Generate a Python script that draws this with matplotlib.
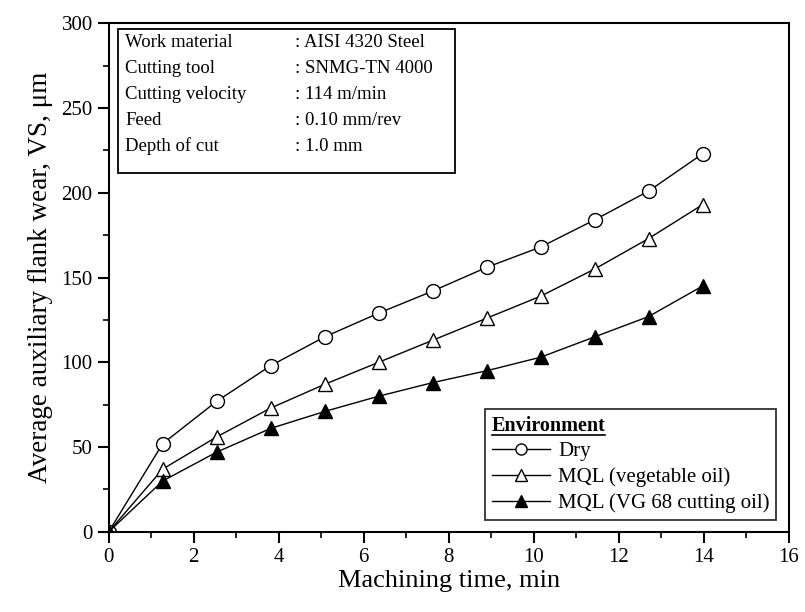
import matplotlib.pyplot as plt
from matplotlib.lines import Line2D

plt.rcParams['font.family'] = ['Liberation Serif', 'DejaVu Serif']

# Datos
tiempo = [0, 1.27, 2.54, 3.81, 5.08, 6.35, 7.62, 8.89, 10.16, 11.43, 12.70, 13.97]
dry = [0, 52, 77, 98, 115, 129, 142, 156, 168, 184, 201, 223]
mql_veg = [0, 37, 56, 73, 87, 100, 113, 126, 139, 155, 173, 193]
mql_vg68 = [0, 30, 47, 61, 71, 80, 88, 95, 103, 115, 127, 145]

etiquetas = ['Dry', 'MQL (vegetable oil)', 'MQL (VG 68 cutting oil)']

info_nombres = ['Work material', 'Cutting tool', 'Cutting velocity', 'Feed', 'Depth of cut']
info_valores = [': AISI 4320 Steel', ': SNMG-TN 4000', ': 114 m/min', ': 0.10 mm/rev', ': 1.0 mm']

fig = plt.figure(figsize=(8.05, 6.12), dpi=100)
ax = fig.add_axes([0.135, 0.131, 0.845, 0.831])

ax.plot(tiempo, dry, color='black', lw=1, marker='o', ms=10, mfc='white', mec='black', mew=1, label=etiquetas[0])
ax.plot(tiempo, mql_veg, color='black', lw=1, marker='^', ms=10, mfc='white', mec='black', mew=1, label=etiquetas[1])
ax.plot(tiempo, mql_vg68, color='black', lw=1, marker='^', ms=10, mfc='black', mec='black', mew=1, label=etiquetas[2])

ax.set_xlim(0, 16)
ax.set_ylim(0, 300)
ax.set_xticks(range(0, 17, 2))
ax.set_xticks(range(1, 16, 2), minor=True)
ax.set_yticks(range(0, 301, 50))
ax.set_yticks(range(25, 300, 50), minor=True)
ax.tick_params(which='major', direction='out', length=8, width=1.5, labelsize=15)
ax.tick_params(which='minor', direction='out', length=4, width=1.2)
for s in ax.spines.values():
    s.set_linewidth(1.5)

ax.set_xlabel('Machining time, min', fontsize=19, labelpad=2)
ax.set_ylabel('Average auxiliary flank wear, VS, \u03bcm', fontsize=19.5, labelpad=6)

# Cuadro de condiciones de corte
ax.add_patch(plt.Rectangle((0.013, 0.705), 0.496, 0.283, transform=ax.transAxes,
                           fill=False, lw=1.3, ec='black'))
for i, (n, v) in enumerate(zip(info_nombres, info_valores)):
    y = 0.962 - i * 0.051
    ax.text(0.024, y, n, transform=ax.transAxes, fontsize=13.5, va='center')
    ax.text(0.274, y, v, transform=ax.transAxes, fontsize=13.5, va='center')

leg = ax.legend(loc='lower right', bbox_to_anchor=(0.981, 0.024), title='Environment',
                title_fontproperties={'weight': 'bold', 'size': 14.5}, alignment='left',
                fontsize=15, frameon=True, fancybox=False, edgecolor='black',
                handlelength=2.8, handletextpad=0.4, borderpad=0.3, labelspacing=0.3,
                borderaxespad=0, markerscale=0.8)
leg.get_frame().set_linewidth(1.3)

# Subrayado del titulo de la leyenda
fig.canvas.draw()
bb = leg.get_title().get_window_extent().transformed(fig.transFigure.inverted())
fig.add_artist(Line2D([bb.x0, bb.x1], [bb.y0 + 0.001, bb.y0 + 0.001], color='black', lw=1.2,
                      transform=fig.transFigure))

fig.savefig('out.png', dpi=100)
